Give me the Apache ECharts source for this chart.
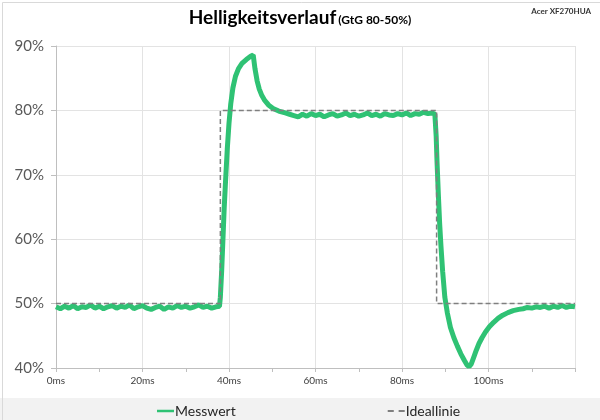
<!DOCTYPE html>
<html>
<head>
<meta charset="utf-8">
<title>Helligkeitsverlauf</title>
<script src="https://cdn.jsdelivr.net/npm/echarts@6/dist/echarts.min.js"></script>
<style>
    html,body{margin:0;padding:0;background:#fff;}
    #chart{width:600px;height:420px;}
</style>
</head>
<body>
<div id="chart"></div>
<script>
// Zeit in ms / Helligkeit in %
var messTime = [0,1,2,3,4,5,6,7,8,9,10,11,12,13,14,15,16,17,18,19,20,21,22,23,24,25,26,27,28,29,30,31,32,33,34,35,36,37,37.8,
    38.0,38.3,38.6,38.9,39.2,39.6,40.0,40.4,40.9,41.5,42.2,43.0,44.0,45.0,45.6,46.0,46.5,47.0,47.6,48.3,49.2,50.2,51.5,53,
    54,55,56,57,58,59,60,61,62,63,64,65,66,67,68,69,70,71,72,73,74,75,76,77,78,79,80,81,82,83,84,85,86,87,87.6,
    87.9,88.1,88.4,88.7,89.0,89.4,89.9,90.5,91.2,92.0,92.8,93.6,94.4,95.0,95.5,96.0,96.6,97.2,97.8,98.5,99.3,100.2,101.2,102.2,103.3,104.5,105.7,
    107,108,109,110,111,112,113,114,115,116,117,118,119,120];
var messValue = [49.5,49.2,49.6,49.3,49.7,49.2,49.5,49.4,49.8,49.3,49.6,49.2,49.5,49.7,49.3,49.6,49.4,49.8,49.2,49.5,49.7,49.3,49.1,49.4,49.6,49.1,49.5,49.3,49.7,49.4,49.6,49.3,49.5,49.8,49.4,49.6,49.3,49.5,49.6,
    51,55,60,65,69,74,78,81,83.5,85.3,86.5,87.3,87.9,88.4,88.6,86.5,84.6,83.3,82.3,81.5,80.8,80.3,79.9,79.6,
    79.4,79.2,79.0,79.4,79.1,79.5,79.2,79.4,79.0,79.3,79.5,79.1,79.3,79.6,79.2,79.4,79.1,79.3,79.6,79.2,79.4,79.1,79.5,79.3,79.2,79.5,79.3,79.6,79.2,79.5,79.4,79.7,79.5,79.6,79.4,
    76,72,67,62.5,59,55,51,48.5,46.3,44.7,43.4,42.2,41.2,40.5,40.2,40.6,41.7,42.8,43.8,44.7,45.6,46.4,47.1,47.7,48.2,48.6,48.9,
    49.1,49.2,49.4,49.3,49.5,49.4,49.6,49.3,49.6,49.4,49.7,49.4,49.6,49.5];
var idealTime = [0,38,38,88,88,120];
var idealValue = [50,50,80,80,50,50];
var seriesNames = ['Messwert','Ideallinie'];

var messData = messTime.map(function(t,i){ return [t, messValue[i]]; });
var idealData = idealTime.map(function(t,i){ return [t, idealValue[i]]; });

var chart = echarts.init(document.getElementById('chart'));
var option = {
    animation:false,
    backgroundColor:'#fff',
    textStyle:{fontFamily:'Lato, "Open Sans", sans-serif'},
    title:[{
        left:'center',
        top:3,
        text:'{a|Helligkeitsverlauf}{b|(GtG 80-50%)}',
        textStyle:{
            rich:{
                a:{fontSize:19,fontWeight:'bold',color:'#000',fontFamily:'Lato, sans-serif'},
                b:{fontSize:12,fontWeight:'bold',color:'#000',fontFamily:'Lato, sans-serif',padding:[5,0,0,2]}
            }
        }
    },{
        right:4,
        top:2,
        text:'Acer XF270HUA',
        textStyle:{fontSize:8,fontWeight:'bold',color:'#333',fontFamily:'Lato, sans-serif'}
    }],
    graphic:[{
        type:'rect',
        left:0, top:398,
        shape:{width:600,height:22},
        style:{fill:'#f2f2f2'},
        z:-1
    },{
        type:'rect',
        left:0, top:0,
        shape:{width:599,height:419},
        style:{fill:'none',stroke:'#d9d9d9',lineWidth:1},
        z:-1
    }],
    legend:{
        left:152,
        top:399,
        itemGap:152,
        itemWidth:17,
        itemHeight:14,
        textStyle:{fontSize:14,color:'#262626',padding:[0,0,0,-4]},
        data:[
            {name:seriesNames[0],icon:'path://M0,0h17v2.5h-17z'},
            {name:seriesNames[1],icon:'path://M0,0h5v1.5h-5z M9,0h5v1.5h-5z'}
        ]
    },
    grid:{left:56,right:25,top:46,bottom:52},
    xAxis:{
        type:'value',
        min:0,
        max:120,
        interval:20,
        axisLine:{lineStyle:{color:'#bfbfbf'}},
        axisTick:{show:true,length:4,lineStyle:{color:'#bfbfbf'}},
        minorTick:{show:true,splitNumber:2,length:4,lineStyle:{color:'#bfbfbf'}},
        splitLine:{show:true,lineStyle:{color:'#e3e3e3'}},
        axisLabel:{formatter:'{value}ms',fontSize:10,color:'#404040',margin:8,showMaxLabel:false}
    },
    yAxis:{
        type:'value',
        min:40,
        max:90,
        interval:10,
        axisLine:{show:true,lineStyle:{color:'#bfbfbf'}},
        axisTick:{show:true,length:5,lineStyle:{color:'#bfbfbf'}},
        splitLine:{show:true,lineStyle:{color:'#e3e3e3'}},
        axisLabel:{formatter:'{value}%',fontSize:15,color:'#595959',margin:12}
    },
    series:[{
        name:seriesNames[0],
        type:'line',
        symbol:'none',
        smooth:false,
        z:2,
        lineStyle:{color:'#2fc274',width:5},
        itemStyle:{color:'#2fc274'},
        data:messData
    },{
        name:seriesNames[1],
        type:'line',
        symbol:'none',
        z:3,
        lineStyle:{color:'#7f7f7f',width:1.5,type:[5,3]},
        itemStyle:{color:'#7f7f7f'},
        data:idealData
    }]
};
chart.setOption(option);
</script>
</body>
</html>
